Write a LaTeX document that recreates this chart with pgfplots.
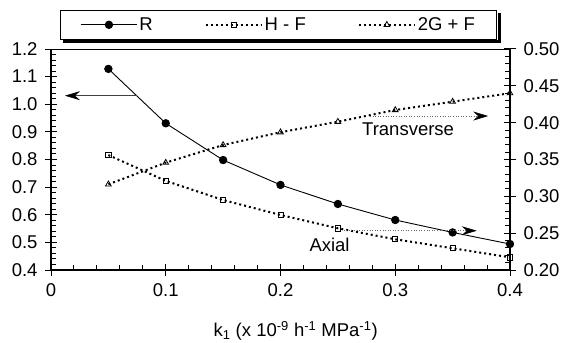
\documentclass[border=0pt]{standalone}
\usepackage{pgfplots}
\pgfplotsset{compat=1.18}
\usepackage{fontspec}
\setmainfont{Liberation Sans}
\usetikzlibrary{arrows.meta}
\begin{document}
\begin{tikzpicture}
\pgfplotsset{
  every axis/.append style={
    scale only axis, width=459bp, height=221bp,
    xmin=0, xmax=0.4,
    font=\fontsize{18.5bp}{22bp}\selectfont,
    /pgf/number format/assume math mode=true,
    tick align=inside,
    major tick length=12bp, minor tick length=5bp,
    tick style={black, line width=1bp},
    clip=false,
  },
  dotser/.style={black, line width=2bp, dash pattern=on 2bp off 3bp, line cap=butt},
}
\begin{axis}[
  ymin=0.4, ymax=1.2,
  axis x line*=bottom, axis y line*=left,
  x axis line style={line width=2bp, -},
  y axis line style={line width=1.3bp, -},
  xtick={0,0.1,0.2,0.3,0.4},
  xticklabels={0,0.1,0.2,0.3,0.4},
  ytick={0.4,0.5,0.6,0.7,0.8,0.9,1.0,1.1,1.2},
  yticklabels={0.4,0.5,0.6,0.7,0.8,0.9,1.0,1.1,1.2},
  xticklabel style={yshift=-10bp},
  yticklabel style={xshift=-10bp},
  minor x tick num=4, minor y tick num=4,
  major x tick style={yshift=-6bp},
  major y tick style={xshift=-6bp},
  xlabel={k\textsubscript{1} (x 10\textsuperscript{-9} h\textsuperscript{-1} MPa\textsuperscript{-1})},
  xlabel style={at={(axis description cs:0.533,0)}, anchor=base, yshift=-66.7bp},
]
\addplot[black, line width=0.9bp, mark=*, mark size=3.7bp, mark options={solid, fill=black}]
  coordinates {(0.05,1.128) (0.1,0.931) (0.15,0.798) (0.2,0.708) (0.25,0.639) (0.3,0.581) (0.35,0.536) (0.4,0.494)};
\draw[line width=0.6bp, black!75, -{Stealth[length=15bp,width=9bp,inset=5bp,color=black]}] (axis cs:0.0746,1.031) -- (axis cs:0.0122,1.031);
\draw[line width=0.8bp] (rel axis cs:0,1) -- (rel axis cs:1,1);
\end{axis}
\begin{axis}[
  ymin=0.2, ymax=0.5,
  axis y line*=right, axis x line=none,
  y axis line style={line width=1.3bp, -},
  ytick={0.2,0.25,0.3,0.35,0.4,0.45,0.5},
  yticklabels={0.20,0.25,0.30,0.35,0.40,0.45,0.50},
  yticklabel style={xshift=10bp},
  minor y tick num=4,
  major y tick style={xshift=6bp},
  legend columns=3,
  legend cell align=left,
  legend style={at={(0.0196,1.176)}, anchor=north west, draw=black, line width=1bp, fill=white,
    name=leg,
    inner xsep=20bp, inner ysep=5bp,
    /tikz/every even column/.append style={column sep=50bp},
    font=\fontsize{18.5bp}{22bp}\selectfont},
  legend image code/.code={\draw[mark repeat=2,mark phase=2,#1] plot coordinates {(0bp,0bp) (28bp,0bp) (56bp,0bp)};},
]
\addlegendimage{black, line width=0.9bp, mark=*, mark size=3.7bp, mark options={solid, fill=black}}
\addlegendentry{R}
\addplot[dotser, mark=square, mark size=2.6bp, mark options={solid, fill=white, line width=0.8bp}]
  coordinates {(0.05,0.356) (0.1,0.321) (0.15,0.295) (0.2,0.2747) (0.25,0.2566) (0.3,0.2417) (0.35,0.2295) (0.4,0.2172)};
\addlegendentry{H - F}
\addplot[dotser, mark=triangle, mark size=3.3bp, mark options={solid, fill=white, line width=0.8bp}]
  coordinates {(0.05,0.3163) (0.1,0.3457) (0.15,0.3697) (0.2,0.387) (0.25,0.4013) (0.3,0.4172) (0.35,0.4285) (0.4,0.44)};
\addlegendentry{2G + F}
\draw[line width=0.6bp, black!60, dotted, -{Stealth[length=15bp,width=9bp,inset=5bp,color=black]}] (axis cs:0.278,0.409) -- (axis cs:0.381,0.409);
\draw[line width=0.6bp, black!60, dotted, -{Stealth[length=15bp,width=9bp,inset=5bp,color=black]}] (axis cs:0.255,0.2533) -- (axis cs:0.371,0.2533);
\node[anchor=base west, inner sep=0pt, font=\fontsize{18.5bp}{22bp}\selectfont] at (axis cs:0.271,0.3819) {Transverse};
\node[anchor=base west, inner sep=0pt, font=\fontsize{18.5bp}{22bp}\selectfont] at (axis cs:0.2251,0.2248) {Axial};
\end{axis}
\fill[black] ([xshift=3bp,yshift=-3.5bp]leg.south west) rectangle ([xshift=3.5bp,yshift=-0.5bp]leg.south east);
\fill[black] ([xshift=0.5bp,yshift=-3.5bp]leg.south east) rectangle ([xshift=3.5bp,yshift=-3bp]leg.north east);
\pgfresetboundingbox
\path (-51bp,-73bp) rectangle (512bp,270bp);
\end{tikzpicture}
\end{document}
